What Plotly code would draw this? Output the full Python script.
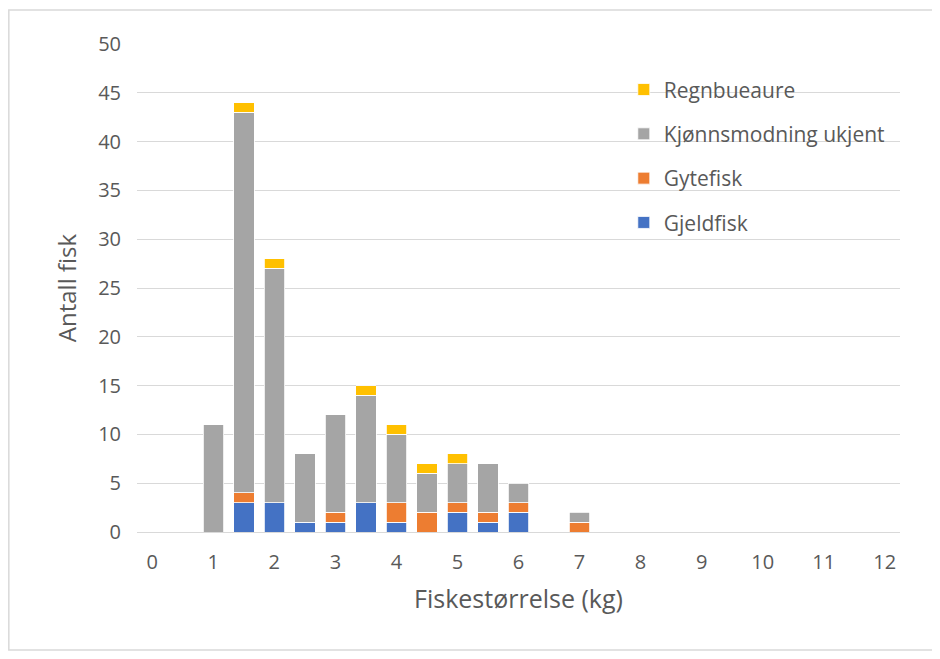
import plotly.graph_objects as go

sizes = [1, 1.5, 2, 2.5, 3, 3.5, 4, 4.5, 5, 5.5, 6, 7]
gjeldfisk = [None, 3, 3, 1, 1, 3, 1, None, 2, 1, 2, None]
gytefisk = [None, 1, None, None, 1, None, 2, 2, 1, 1, 1, 1]
ukjent = [11, 39, 24, 7, 10, 11, 7, 4, 4, 5, 2, 1]
regnbue = [None, 1, 1, None, None, 1, 1, 1, 1, None, None, None]
x_ticks = list(range(0, 13))

series = [
    ("Gjeldfisk", gjeldfisk, "#4472C4", 4),
    ("Gytefisk", gytefisk, "#ED7D31", 3),
    ("Kjønnsmodning ukjent", ukjent, "#A5A5A5", 2),
    ("Regnbueaure", regnbue, "#FFC000", 1),
]

font_family = "Open Sans, sans-serif"
fig = go.Figure()
for name, vals, col, rank in series:
    fig.add_trace(go.Bar(
        x=sizes, y=vals, name=name, width=0.335,
        marker=dict(color=col, line=dict(color="white", width=0.8)),
        legendgroup=name, legendrank=rank,
    ))

fig.update_layout(
    width=940, height=659,
    barmode="stack",
    plot_bgcolor="white", paper_bgcolor="white",
    margin=dict(l=129, r=48, t=36, b=135),
    font=dict(family=font_family, color="#595959", size=20),
    showlegend=True,
    legend=dict(
        x=0.638, y=0.948, xanchor="left", yanchor="top",
        bgcolor="rgba(0,0,0,0)", traceorder="grouped",
        tracegroupgap=14, font=dict(size=21, color="#595959"),
        itemwidth=30,
    ),
    shapes=[dict(type="rect", xref="paper", yref="paper",
                 x0=-0.168, x1=1.048, y0=-0.2418, y1=1.0697,
                 line=dict(color="#d9d9d9", width=1.5), layer="below")],
)
fig.update_xaxes(
    range=[-0.25, 12.25], tickvals=x_ticks, ticktext=[str(v) for v in x_ticks],
    showgrid=False, zeroline=False, showline=True, linecolor="#d9d9d9", linewidth=1,
    ticks="", ticklabelstandoff=12,
    title=dict(text="Fiskestørrelse (kg)", font=dict(size=25, color="#595959"), standoff=16),
)
fig.update_yaxes(
    range=[0, 50], dtick=5, showgrid=True, gridcolor="#d9d9d9", gridwidth=1,
    zeroline=False, showline=False, ticks="", ticklabelstandoff=15,
    title=dict(text="Antall fisk", font=dict(size=24, color="#595959"), standoff=14),
)
fig.write_html("out.html")
